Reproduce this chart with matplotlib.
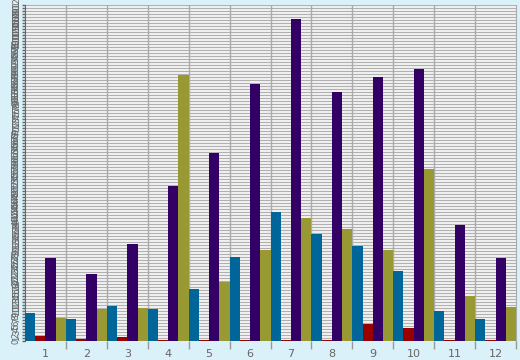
import matplotlib
matplotlib.use("Agg")
import matplotlib.pyplot as plt
import numpy as np

# data (grid units)
groups = [str(i) for i in range(1, 13)]
teal = [9.3, 7.3, 11.7, 10.7, 17.3, 28.0, 43.0, 35.7, 31.7, 23.3, 10.0, 7.3]
red = [1.7, 0.7, 1.3, 0.3, 0.3, 0.3, 0.3, 0.3, 5.7, 4.3, 0.3, 0.3]
purple = [27.7, 22.3, 32.3, 51.7, 62.7, 85.7, 107.3, 83.0, 88.0, 90.7, 38.7, 27.7]
olive = [7.7, 10.7, 11.0, 88.7, 19.7, 30.3, 41.0, 37.3, 30.3, 57.3, 15.0, 11.3]
y_max = 112

series = [teal, red, purple, olive]
colors = ["#006699", "#990000", "#330066", "#999933"]

fig = plt.figure(figsize=(5.2, 3.6), dpi=100, facecolor="#daf1f9")
ax = fig.add_axes([25 / 520, 19 / 360, 491 / 520, 336 / 360])
ax.set_facecolor("white")

x = np.arange(1, 13)
w = 0.25
for i, (vals, c) in enumerate(zip(series, colors)):
    ax.bar(x + (i - 1.5) * w, vals, width=w, color=c, zorder=3)

ax.set_xlim(0.5, 12.5)
ax.set_ylim(0, y_max)

# dense horizontal grid, one line per unit
yt = np.arange(0, y_max + 1)
ax.set_yticks(yt)
ax.set_yticklabels([str(v) for v in yt], fontsize=6, color="#666666",
                   rotation=90, va="center")
for v in yt:
    ax.axhline(v, color="#b0b0b0", lw=1.0, zorder=1)

# category boundaries
ax.set_xticks(x)
ax.set_xticklabels(groups, fontsize=8, color="#666666")
ax.tick_params(axis="x", length=0, pad=6)
ax.set_xticks(np.arange(1.5, 13, 1), minor=True)
ax.tick_params(axis="x", which="minor", length=6, color="#999999", width=1)
for b in np.arange(1.5, 12.5, 1):
    ax.axvline(b, color="#aaaaaa", lw=1, zorder=2)

ax.tick_params(axis="y", length=2, color="#666666", width=1, pad=1)
ax.spines["top"].set_visible(False)
ax.spines["bottom"].set_visible(False)
ax.spines["left"].set_color("#666666")
ax.spines["right"].set_color("#aaaaaa")

fig.savefig("out.png", dpi=100, facecolor=fig.get_facecolor())
